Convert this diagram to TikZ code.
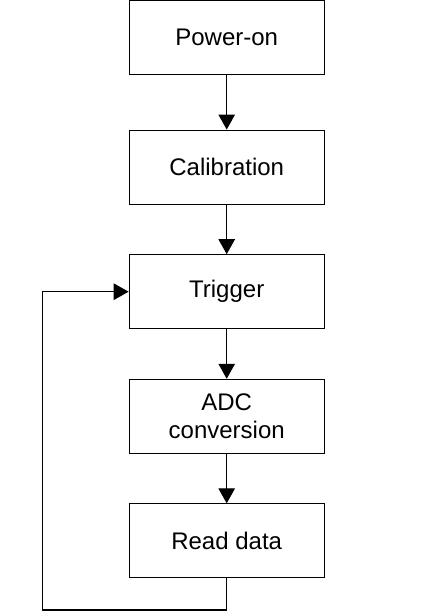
\documentclass[tikz,border=0pt]{standalone}
\usepackage{fontspec}
\setmainfont{Liberation Sans}
\usetikzlibrary{arrows.meta,calc,positioning}

\begin{document}
\begin{tikzpicture}[
  x=1pt, y=1pt,
  node distance=49.5pt,
  every node/.style={font=\fontsize{24}{28}\selectfont},
  stage/.style={draw=black, line width=1.1pt, fill=white,
    minimum width=195pt, minimum height=74pt, align=center, inner sep=2pt},
  arr/.style={-{Triangle[length=15pt,width=16.5pt]}, draw=black, line width=1.1pt}
]
  \useasboundingbox (0,0) rectangle (443,-616);

  \node[stage] (power) at (226.7,-37.5) {Power-on};
  \node[stage, below=54.5pt of power] (calib) {Calibration};
  \node[stage, below=of calib] (trig) {Trigger};
  \node[stage, below=of trig] (adc) {ADC\\conversion};
  \node[stage, below=of adc] (read) {Read data};

  \draw[arr] (power) -- (calib);
  \draw[arr] (calib) -- (trig);
  \draw[arr] (trig) -- (adc);
  \draw[arr] (adc) -- (read);

  % loop back to the trigger
  \coordinate (back) at ($(read.south)+(-184,-31.5)$);
  \draw[arr] (read.south) |- (back) |- (trig.west);
\end{tikzpicture}
\end{document}
